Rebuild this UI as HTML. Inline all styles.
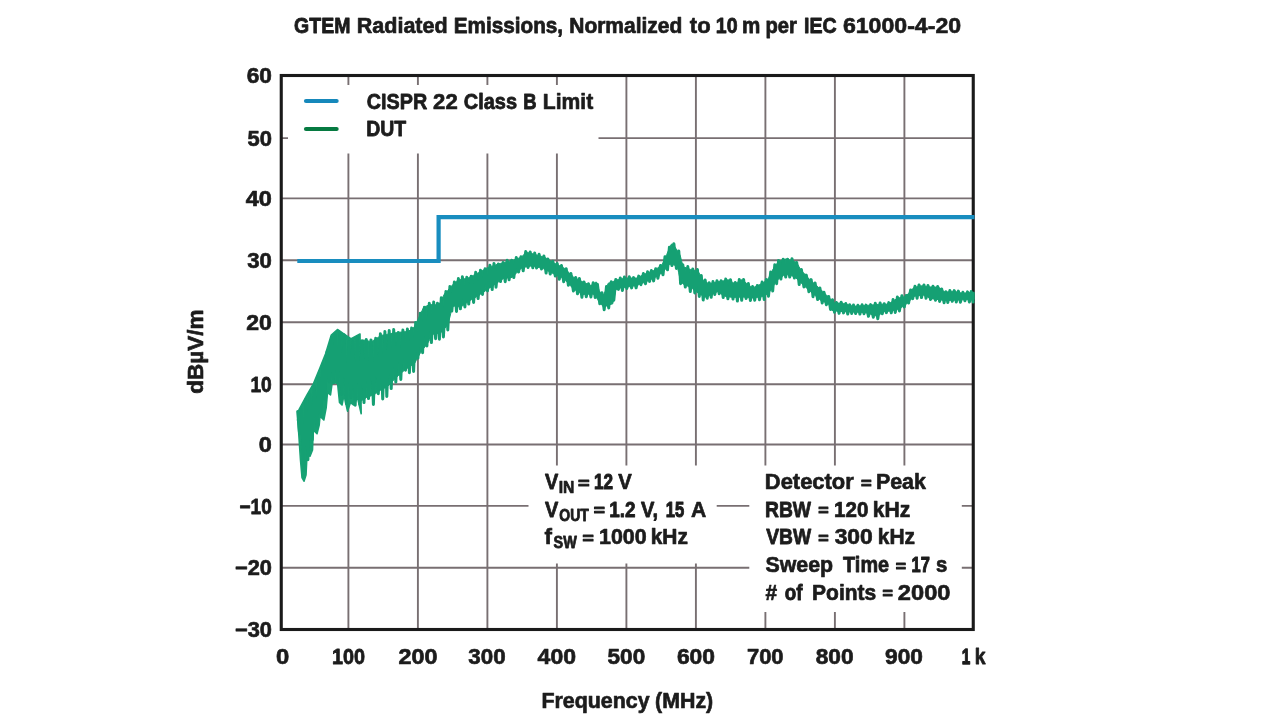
<!DOCTYPE html>
<html lang="en"><head><meta charset="utf-8"><title>GTEM Radiated Emissions</title>
<style>
html,body{margin:0;padding:0;background:#fff;width:1280px;height:720px;overflow:hidden}
svg{display:block;filter:blur(0.45px)}
text{font-family:"Liberation Sans",sans-serif;font-weight:bold;fill:#1c1c1c;stroke:#1c1c1c;stroke-width:0.65px;stroke-linejoin:round}
</style></head><body>
<svg width="1280" height="720" viewBox="0 0 1280 720">
<rect width="1280" height="720" fill="#fff"/>
<g stroke="#786f72" stroke-width="1.9" fill="none" style="filter:blur(0.5px)"><line x1="348.40" y1="75.5" x2="348.40" y2="629.5"/><line x1="417.90" y1="75.5" x2="417.90" y2="629.5"/><line x1="487.40" y1="75.5" x2="487.40" y2="629.5"/><line x1="556.90" y1="75.5" x2="556.90" y2="629.5"/><line x1="626.40" y1="75.5" x2="626.40" y2="629.5"/><line x1="695.90" y1="75.5" x2="695.90" y2="629.5"/><line x1="765.40" y1="75.5" x2="765.40" y2="629.5"/><line x1="834.90" y1="75.5" x2="834.90" y2="629.5"/><line x1="904.40" y1="75.5" x2="904.40" y2="629.5"/><line x1="281.25" y1="138.10" x2="973.25" y2="138.10"/><line x1="281.25" y1="198.40" x2="973.25" y2="198.40"/><line x1="281.25" y1="260.30" x2="973.25" y2="260.30"/><line x1="281.25" y1="322.20" x2="973.25" y2="322.20"/><line x1="281.25" y1="384.20" x2="973.25" y2="384.20"/><line x1="281.25" y1="444.50" x2="973.25" y2="444.50"/><line x1="281.25" y1="505.90" x2="973.25" y2="505.90"/><line x1="281.25" y1="567.70" x2="973.25" y2="567.70"/></g>
<rect x="288" y="85" width="310.5" height="68.5" fill="#fff"/>
<rect x="528.5" y="465.5" width="188.2" height="98" fill="#fff"/>
<rect x="749.3" y="465.5" width="212.5" height="146.5" fill="#fff"/>
<rect x="281.25" y="75.5" width="692.0" height="554.0" fill="none" stroke="#1a1a1a" stroke-width="3.1"/>
<path d="M297.3,261 H438.6 V217.1 H974.5" fill="none" stroke="#188dbf" stroke-width="4.2" stroke-linejoin="miter"/>
<path d="M297.7,412.5 L299.2,412.5 L300.7,411.4 L302.2,409.3 L303.7,407.4 L305.2,404.8 L306.7,401.6 L308.2,398.7 L309.7,396.1 L311.2,393.3 L312.7,390.2 L314.2,387.3 L315.7,384.0 L317.2,380.7 L318.7,377.0 L320.2,373.4 L321.7,369.4 L323.2,365.3 L324.7,361.3 L326.2,357.2 L327.7,352.0 L329.2,346.7 L330.7,341.4 L332.2,337.9 L333.7,336.6 L335.2,335.4 L336.7,334.2 L338.2,333.5 L339.7,334.6 L341.2,335.7 L342.7,336.6 L344.2,337.8 L345.7,339.1 L347.2,340.3 L348.7,341.4 L350.2,342.5 L351.7,343.5 L353.2,343.0 L354.7,342.5 L356.2,342.0 L357.7,341.6 L359.2,341.1 L360.7,340.5 L362.2,339.9 L363.7,340.0 L365.2,340.3 L366.7,340.6 L368.2,340.9 L369.7,341.2 L371.2,341.5 L372.7,340.9 L374.2,339.9 L375.7,338.9 L377.2,337.9 L378.7,336.9 L380.2,335.9 L381.7,335.3 L383.2,335.0 L384.7,334.8 L386.2,334.5 L387.7,334.2 L389.2,333.9 L390.7,333.6 L392.2,333.3 L393.7,333.0 L395.2,332.8 L396.7,332.6 L398.2,332.4 L399.7,332.2 L401.2,332.1 L402.7,331.9 L404.2,331.7 L405.7,331.6 L407.2,331.4 L408.7,331.1 L410.2,330.0 L411.7,328.8 L413.2,327.7 L414.7,326.3 L416.2,323.1 L417.7,319.9 L419.2,316.7 L420.7,313.5 L422.2,310.3 L423.7,307.1 L425.2,306.5 L426.7,305.9 L428.2,305.3 L429.7,304.7 L431.2,304.6 L432.7,304.5 L434.2,304.6 L435.7,304.7 L437.2,304.7 L438.7,304.8 L440.2,302.4 L441.7,299.4 L443.2,296.3 L444.7,293.5 L446.2,292.0 L447.7,290.5 L449.2,288.8 L450.7,287.0 L452.2,285.3 L453.7,283.8 L455.2,282.4 L456.7,281.0 L458.2,280.1 L459.7,279.8 L461.2,279.5 L462.7,279.2 L464.2,278.8 L465.7,278.5 L467.2,278.1 L468.7,277.7 L470.2,276.9 L471.7,276.2 L473.2,275.4 L474.7,274.7 L476.2,273.9 L477.7,273.1 L479.2,272.4 L480.7,271.5 L482.2,270.6 L483.7,269.8 L485.2,268.9 L486.7,268.0 L488.2,267.4 L489.7,266.9 L491.2,266.4 L492.7,265.9 L494.2,265.4 L495.7,264.9 L497.2,264.4 L498.7,263.9 L500.2,263.5 L501.7,263.1 L503.2,262.7 L504.7,262.3 L506.2,261.9 L507.7,261.6 L509.2,261.2 L510.7,260.8 L512.2,260.4 L513.7,259.9 L515.2,259.4 L516.7,258.8 L518.2,258.3 L519.7,257.8 L521.2,257.2 L522.7,255.7 L524.2,254.2 L525.7,252.8 L527.2,252.3 L528.7,252.7 L530.2,253.1 L531.7,253.5 L533.2,253.9 L534.7,254.4 L536.2,254.8 L537.7,255.2 L539.2,255.7 L540.7,256.1 L542.2,256.6 L543.7,257.0 L545.2,257.6 L546.7,258.5 L548.2,259.4 L549.7,260.3 L551.2,261.3 L552.7,262.2 L554.2,263.1 L555.7,263.8 L557.2,264.6 L558.7,265.3 L560.2,266.1 L561.7,266.9 L563.2,267.6 L564.7,268.4 L566.2,269.9 L567.7,271.4 L569.2,272.8 L570.7,274.3 L572.2,275.8 L573.7,277.2 L575.2,278.0 L576.7,278.8 L578.2,279.5 L579.7,280.3 L581.2,281.1 L582.7,281.8 L584.2,282.5 L585.7,283.2 L587.2,283.9 L588.7,284.6 L590.2,285.3 L591.7,285.1 L593.2,284.0 L594.7,282.9 L596.2,281.9 L597.7,285.9 L599.2,290.7 L600.7,292.9 L602.2,293.7 L603.7,294.5 L605.2,291.5 L606.7,287.1 L608.2,283.2 L609.7,282.7 L611.2,282.2 L612.7,281.8 L614.2,281.0 L615.7,280.2 L617.2,279.8 L618.7,279.5 L620.2,279.2 L621.7,278.9 L623.2,278.6 L624.7,278.3 L626.2,278.1 L627.7,278.0 L629.2,278.0 L630.7,278.0 L632.2,278.0 L633.7,278.0 L635.2,278.0 L636.7,278.0 L638.2,277.3 L639.7,276.6 L641.2,275.8 L642.7,275.1 L644.2,274.3 L645.7,273.6 L647.2,273.0 L648.7,272.4 L650.2,271.9 L651.7,271.3 L653.2,270.7 L654.7,270.0 L656.2,269.0 L657.7,267.9 L659.2,266.9 L660.7,265.8 L662.2,264.5 L663.7,261.2 L665.2,257.9 L666.7,254.6 L668.2,251.1 L669.7,247.7 L671.2,244.3 L672.7,243.9 L674.2,246.0 L675.7,248.2 L677.2,250.3 L678.7,252.8 L680.2,255.4 L681.7,261.3 L683.2,266.7 L684.7,267.3 L686.2,267.8 L687.7,268.4 L689.2,268.9 L690.7,269.5 L692.2,269.9 L693.7,270.2 L695.2,270.5 L696.7,270.9 L698.2,271.3 L699.7,274.2 L701.2,277.1 L702.7,279.7 L704.2,280.7 L705.7,281.8 L707.2,282.7 L708.7,283.7 L710.2,283.4 L711.7,283.1 L713.2,282.8 L714.7,282.5 L716.2,282.1 L717.7,281.8 L719.2,281.6 L720.7,281.3 L722.2,281.0 L723.7,280.7 L725.2,280.4 L726.7,280.1 L728.2,279.7 L729.7,280.5 L731.2,281.4 L732.7,282.4 L734.2,283.3 L735.7,283.4 L737.2,282.4 L738.7,281.5 L740.2,280.5 L741.7,279.7 L743.2,280.9 L744.7,282.0 L746.2,283.1 L747.7,284.3 L749.2,285.4 L750.7,286.6 L752.2,287.7 L753.7,287.4 L755.2,286.7 L756.7,285.9 L758.2,285.2 L759.7,284.5 L761.2,283.8 L762.7,282.9 L764.2,281.9 L765.7,280.9 L767.2,279.9 L768.7,277.7 L770.2,274.8 L771.7,271.8 L773.2,268.9 L774.7,266.7 L776.2,264.6 L777.7,262.6 L779.2,261.0 L780.7,260.5 L782.2,260.0 L783.7,259.6 L785.2,259.1 L786.7,258.9 L788.2,259.4 L789.7,259.9 L791.2,260.3 L792.7,260.8 L794.2,261.3 L795.7,261.9 L797.2,263.6 L798.7,266.2 L800.2,268.8 L801.7,270.7 L803.2,272.4 L804.7,274.1 L806.2,275.7 L807.7,277.4 L809.2,279.1 L810.7,280.4 L812.2,281.7 L813.7,283.0 L815.2,284.4 L816.7,285.7 L818.2,287.0 L819.7,288.5 L821.2,289.9 L822.7,291.4 L824.2,292.9 L825.7,294.3 L827.2,295.8 L828.7,297.2 L830.2,298.8 L831.7,300.4 L833.2,301.8 L834.7,303.1 L836.2,303.1 L837.7,303.1 L839.2,303.1 L840.7,303.1 L842.2,303.1 L843.7,303.5 L845.2,304.0 L846.7,304.4 L848.2,304.8 L849.7,305.3 L851.2,305.7 L852.7,306.1 L854.2,306.2 L855.7,306.1 L857.2,306.0 L858.7,305.9 L860.2,305.8 L861.7,305.7 L863.2,305.6 L864.7,305.5 L866.2,305.4 L867.7,305.3 L869.2,305.2 L870.7,305.1 L872.2,304.9 L873.7,304.8 L875.2,304.6 L876.7,304.5 L878.2,304.4 L879.7,304.3 L881.2,304.3 L882.7,304.2 L884.2,304.2 L885.7,304.2 L887.2,304.1 L888.7,303.8 L890.2,302.8 L891.7,301.9 L893.2,300.9 L894.7,300.0 L896.2,299.1 L897.7,298.1 L899.2,297.7 L900.7,297.4 L902.2,297.2 L903.7,296.9 L905.2,296.7 L906.7,295.4 L908.2,293.7 L909.7,292.0 L911.2,290.3 L912.7,288.6 L914.2,287.6 L915.7,287.2 L917.2,286.7 L918.7,286.3 L920.2,285.9 L921.7,285.8 L923.2,285.9 L924.7,286.2 L926.2,286.4 L927.7,286.6 L929.2,286.8 L930.7,286.9 L932.2,286.9 L933.7,286.9 L935.2,287.0 L936.7,287.0 L938.2,287.0 L939.7,287.9 L941.2,289.2 L942.7,290.4 L944.2,291.6 L945.7,292.1 L947.2,291.9 L948.7,291.8 L950.2,291.6 L951.7,291.4 L953.2,291.2 L954.7,291.4 L956.2,291.7 L957.7,292.1 L959.2,292.4 L960.7,292.8 L962.2,293.1 L963.7,293.1 L965.2,293.0 L966.7,292.8 L968.2,292.7 L969.7,292.5 L971.2,292.4 L972.7,292.3 L974.2,292.2 L974.2,299.6 L972.7,299.6 L971.2,299.6 L969.7,299.7 L968.2,299.7 L966.7,299.7 L965.2,299.7 L963.7,299.7 L962.2,299.8 L960.7,299.9 L959.2,300.0 L957.7,300.1 L956.2,300.2 L954.7,300.3 L953.2,300.4 L951.7,300.4 L950.2,300.5 L948.7,300.5 L947.2,300.5 L945.7,300.5 L944.2,300.5 L942.7,300.3 L941.2,300.1 L939.7,299.9 L938.2,299.6 L936.7,299.4 L935.2,299.2 L933.7,299.1 L932.2,298.9 L930.7,298.4 L929.2,297.7 L927.7,297.1 L926.2,296.4 L924.7,295.7 L923.2,295.1 L921.7,295.2 L920.2,295.3 L918.7,295.6 L917.2,295.8 L915.7,296.0 L914.2,296.4 L912.7,297.8 L911.2,299.3 L909.7,300.8 L908.2,302.3 L906.7,303.8 L905.2,305.2 L903.7,306.0 L902.2,306.9 L900.7,307.7 L899.2,308.6 L897.7,309.5 L896.2,310.1 L894.7,310.3 L893.2,310.6 L891.7,310.8 L890.2,311.0 L888.7,311.3 L887.2,311.4 L885.7,311.5 L884.2,311.7 L882.7,312.5 L881.2,313.5 L879.7,314.6 L878.2,315.7 L876.7,316.2 L875.2,315.7 L873.7,315.2 L872.2,314.7 L870.7,314.3 L869.2,313.8 L867.7,313.3 L866.2,312.8 L864.7,312.7 L863.2,312.6 L861.7,312.5 L860.2,312.4 L858.7,312.3 L857.2,312.2 L855.7,312.1 L854.2,312.0 L852.7,312.0 L851.2,311.9 L849.7,311.8 L848.2,311.8 L846.7,311.7 L845.2,311.7 L843.7,311.6 L842.2,311.5 L840.7,311.5 L839.2,311.5 L837.7,311.3 L836.2,311.1 L834.7,311.0 L833.2,310.6 L831.7,310.3 L830.2,307.2 L828.7,304.0 L827.2,303.3 L825.7,302.6 L824.2,301.9 L822.7,301.2 L821.2,300.5 L819.7,299.6 L818.2,298.3 L816.7,296.9 L815.2,295.6 L813.7,294.3 L812.2,293.0 L810.7,291.7 L809.2,290.4 L807.7,289.0 L806.2,287.7 L804.7,286.3 L803.2,284.9 L801.7,283.6 L800.2,282.2 L798.7,280.7 L797.2,279.2 L795.7,277.8 L794.2,276.6 L792.7,276.2 L791.2,275.8 L789.7,275.4 L788.2,275.0 L786.7,274.6 L785.2,274.4 L783.7,275.5 L782.2,276.5 L780.7,277.5 L779.2,278.5 L777.7,279.7 L776.2,281.3 L774.7,283.7 L773.2,286.2 L771.7,288.8 L770.2,291.3 L768.7,292.7 L767.2,293.9 L765.7,294.9 L764.2,295.8 L762.7,296.5 L761.2,296.8 L759.7,297.0 L758.2,297.2 L756.7,297.4 L755.2,297.7 L753.7,297.9 L752.2,298.0 L750.7,297.9 L749.2,297.7 L747.7,297.6 L746.2,297.4 L744.7,297.3 L743.2,297.1 L741.7,296.9 L740.2,297.1 L738.7,297.2 L737.2,297.3 L735.7,297.4 L734.2,297.4 L732.7,297.3 L731.2,297.2 L729.7,297.0 L728.2,296.9 L726.7,297.0 L725.2,296.3 L723.7,295.4 L722.2,294.5 L720.7,293.6 L719.2,292.7 L717.7,291.7 L716.2,292.3 L714.7,293.1 L713.2,293.8 L711.7,294.6 L710.2,295.3 L708.7,296.1 L707.2,296.7 L705.7,297.2 L704.2,296.5 L702.7,295.8 L701.2,294.9 L699.7,294.0 L698.2,293.1 L696.7,291.9 L695.2,290.8 L693.7,289.7 L692.2,288.5 L690.7,287.6 L689.2,286.9 L687.7,286.2 L686.2,285.5 L684.7,284.8 L683.2,284.0 L681.7,282.6 L680.2,279.6 L678.7,272.6 L677.2,266.5 L675.7,265.8 L674.2,265.1 L672.7,264.5 L671.2,264.2 L669.7,264.2 L668.2,266.0 L666.7,267.8 L665.2,269.5 L663.7,271.3 L662.2,272.7 L660.7,273.7 L659.2,274.7 L657.7,275.7 L656.2,276.6 L654.7,277.6 L653.2,278.4 L651.7,279.1 L650.2,279.8 L648.7,280.5 L647.2,281.2 L645.7,281.9 L644.2,282.5 L642.7,283.1 L641.2,283.7 L639.7,284.3 L638.2,284.9 L636.7,285.4 L635.2,285.7 L633.7,286.0 L632.2,286.2 L630.7,286.5 L629.2,286.7 L627.7,287.0 L626.2,287.3 L624.7,287.5 L623.2,287.7 L621.7,287.8 L620.2,288.0 L618.7,288.2 L617.2,288.4 L615.7,290.4 L614.2,297.4 L612.7,303.9 L611.2,304.3 L609.7,304.7 L608.2,305.1 L606.7,305.9 L605.2,306.9 L603.7,307.1 L602.2,305.4 L600.7,303.8 L599.2,301.9 L597.7,299.6 L596.2,297.2 L594.7,295.6 L593.2,293.9 L591.7,294.1 L590.2,294.2 L588.7,294.3 L587.2,294.3 L585.7,294.4 L584.2,294.4 L582.7,294.4 L581.2,293.8 L579.7,292.9 L578.2,292.0 L576.7,291.1 L575.2,290.1 L573.7,289.2 L572.2,287.6 L570.7,286.0 L569.2,284.3 L567.7,282.7 L566.2,281.0 L564.7,279.3 L563.2,278.6 L561.7,277.8 L560.2,277.1 L558.7,276.4 L557.2,275.6 L555.7,274.9 L554.2,274.1 L552.7,273.4 L551.2,272.6 L549.7,271.8 L548.2,271.0 L546.7,270.3 L545.2,269.5 L543.7,268.8 L542.2,268.2 L540.7,267.9 L539.2,267.6 L537.7,267.2 L536.2,266.9 L534.7,266.6 L533.2,266.3 L531.7,266.0 L530.2,266.2 L528.7,266.4 L527.2,266.7 L525.7,267.0 L524.2,267.4 L522.7,267.9 L521.2,268.4 L519.7,269.7 L518.2,271.3 L516.7,272.8 L515.2,274.3 L513.7,275.9 L512.2,277.4 L510.7,277.6 L509.2,277.8 L507.7,278.0 L506.2,278.2 L504.7,278.4 L503.2,278.7 L501.7,279.7 L500.2,280.8 L498.7,281.8 L497.2,282.8 L495.7,283.9 L494.2,284.9 L492.7,285.9 L491.2,286.9 L489.7,287.9 L488.2,288.9 L486.7,289.9 L485.2,291.0 L483.7,292.0 L482.2,293.1 L480.7,294.1 L479.2,295.2 L477.7,296.1 L476.2,296.9 L474.7,297.8 L473.2,298.7 L471.7,299.5 L470.2,300.4 L468.7,301.3 L467.2,302.3 L465.7,303.5 L464.2,304.6 L462.7,305.7 L461.2,306.8 L459.7,307.1 L458.2,306.7 L456.7,306.4 L455.2,306.2 L453.7,306.0 L452.2,307.8 L450.7,313.8 L449.2,319.9 L447.7,324.7 L446.2,326.6 L444.7,328.4 L443.2,330.4 L441.7,332.1 L440.2,332.8 L438.7,333.3 L437.2,333.5 L435.7,333.7 L434.2,333.9 L432.7,334.4 L431.2,337.0 L429.7,339.6 L428.2,342.2 L426.7,344.9 L425.2,346.6 L423.7,348.3 L422.2,350.3 L420.7,352.4 L419.2,355.0 L417.7,357.8 L416.2,360.5 L414.7,363.2 L413.2,364.4 L411.7,365.4 L410.2,366.4 L408.7,367.5 L407.2,368.4 L405.7,369.2 L404.2,370.5 L402.7,371.8 L401.2,373.1 L399.7,374.4 L398.2,375.8 L396.7,377.1 L395.2,378.6 L393.7,380.1 L392.2,381.7 L390.7,383.2 L389.2,384.8 L387.7,386.3 L386.2,387.4 L384.7,388.1 L383.2,388.8 L381.7,389.5 L380.2,390.4 L378.7,391.5 L377.2,392.5 L375.7,393.6 L374.2,394.6 L372.7,395.2 L371.2,395.8 L369.7,396.3 L368.2,396.8 L366.7,397.4 L365.2,398.4 L363.7,399.3 L362.2,400.3 L360.7,401.4 L359.2,400.9 L357.7,399.3 L356.2,397.7 L354.7,396.1 L353.2,394.9 L351.7,396.3 L350.2,397.5 L348.7,398.7 L347.2,399.6 L345.7,397.5 L344.2,395.4 L342.7,393.3 L341.2,391.3 L339.7,385.7 L338.2,379.8 L336.7,374.2 L335.2,374.3 L333.7,374.8 L332.2,375.3 L330.7,376.1 L329.2,379.7 L327.7,383.9 L326.2,388.2 L324.7,394.5 L323.2,401.5 L321.7,408.5 L320.2,414.0 L318.7,419.1 L317.2,423.7 L315.7,423.1 L314.2,422.4 L312.7,429.1 L311.2,440.8 L309.7,447.2 L308.2,450.2 L306.7,454.1 L305.2,463.6 L303.7,461.8 L302.2,449.9 L300.7,439.0 L299.2,428.9 L297.7,418.7Z" fill="#17a274" stroke="#17a274" stroke-width="1" stroke-linejoin="round"/>
<path d="M297.6,420.0 L298.9,410.0 L307.0,395.0 L313.4,383.8 L319.6,368.8 L325.6,353.8 L331.3,335.0 L337.5,329.5 L343.8,333.8 L351.2,338.8 L360.0,334.0 L361.2,413.8 L357.5,397.5 L353.8,405.0 L350.5,402.5 L347.5,411.2 L344.0,395.0 L342.0,405.0 L339.5,402.5 L337.5,382.5 L332.0,383.8 L330.5,395.0 L327.5,392.5 L326.2,407.5 L323.8,420.0 L320.0,416.2 L319.2,425.0 L317.0,433.8 L313.2,430.0 L312.5,450.0 L310.0,456.2 L307.0,455.0 L306.0,475.0 L304.0,481.2 L302.0,477.5 L300.5,460.0 L298.0,422.5Z" fill="#17a274" stroke="#17a274" stroke-width="1.6" stroke-linejoin="round"/>
<path d="M297.7,411.5 L299.6,433.8 L301.5,409.3 L303.6,470.2 L305.8,399.4 L307.9,459.8 L309.8,394.2 L312.3,439.7 L314.2,386.6 L316.8,427.2 L318.9,377.4 L320.7,413.7 L322.8,363.9 L324.7,399.5 L327.1,351.8 L329.4,382.0 L331.5,337.7 L333.3,382.0 L335.3,334.9 L337.4,382.9 L339.7,333.0 L341.8,394.4 L344.1,334.8 L346.4,403.8 L348.9,341.4 L350.9,397.4 L352.8,341.4 L355.2,405.3 L357.4,337.5 L359.7,404.3 L362.0,340.9 L364.0,402.6 L366.3,339.5 L368.5,398.6 L371.0,339.9 L373.4,404.5 L375.7,338.3 L378.3,393.8 L380.4,333.7 L382.7,398.9 L384.9,331.5 L386.8,396.5 L389.2,330.6 L391.2,388.6 L393.7,329.6 L395.8,382.1 L398.3,332.6 L400.8,379.4 L402.9,330.1 L405.5,370.2 L407.4,329.0 L409.4,372.7 L411.6,328.1 L413.6,371.5 L415.7,322.5 L417.9,358.1 L420.3,313.2 L422.6,352.7 L424.4,307.3 L426.9,346.0 L429.3,303.3 L431.4,342.6 L433.7,302.1 L435.6,338.7 L437.5,303.2 L439.4,339.2 L441.3,297.7 L443.4,336.9 L445.9,291.6 L447.8,330.0 L449.9,286.5 L451.8,311.0 L454.4,282.0 L456.5,311.5 L458.4,278.5 L460.4,308.8 L462.4,276.8 L464.9,307.0 L466.8,277.3 L468.7,304.1 L471.2,276.3 L473.6,302.4 L475.7,272.3 L478.1,298.6 L480.5,270.2 L482.5,294.4 L485.1,268.8 L487.5,290.8 L489.9,265.2 L492.2,289.6 L494.0,263.4 L496.0,287.2 L498.4,264.0 L500.5,281.5 L503.1,262.6 L505.2,281.7 L507.2,260.2 L509.1,279.8 L511.7,260.3 L513.8,277.6 L516.3,257.4 L518.6,271.9 L521.0,256.8 L523.2,270.8 L525.7,251.6 L528.1,267.4 L530.2,252.0 L532.8,267.7 L534.7,252.9 L536.6,268.1 L539.1,254.2 L541.5,268.9 L543.9,256.0 L546.1,273.0 L547.9,259.0 L550.2,274.1 L552.8,261.3 L555.3,275.9 L557.2,263.4 L559.3,279.3 L561.5,265.6 L563.7,281.8 L566.2,268.8 L568.4,285.3 L570.9,273.5 L573.4,291.1 L575.7,277.4 L577.5,293.8 L579.4,278.5 L581.9,297.3 L584.0,281.9 L586.3,296.8 L588.5,283.7 L590.9,296.9 L593.2,282.8 L595.2,297.6 L597.4,284.2 L599.8,303.8 L602.0,292.8 L604.2,309.7 L606.5,286.5 L608.7,307.9 L611.3,281.7 L613.8,300.2 L615.8,279.4 L618.4,289.4 L620.3,277.9 L622.4,290.5 L624.4,277.0 L626.8,288.5 L629.3,276.8 L631.6,287.9 L633.6,277.6 L636.1,287.8 L638.7,276.1 L640.9,284.7 L643.4,273.5 L645.5,283.8 L647.6,271.7 L649.6,281.4 L651.4,270.6 L653.6,280.9 L655.7,268.7 L657.9,278.2 L660.5,265.5 L663.0,274.8 L665.0,256.7 L667.5,269.8 L669.4,247.3 L671.9,265.6 L673.9,243.8 L676.4,268.4 L678.8,251.1 L680.6,283.7 L682.8,264.7 L685.3,287.1 L687.8,266.6 L690.3,291.6 L692.8,269.0 L694.8,293.0 L697.4,269.4 L699.3,296.4 L701.3,275.5 L703.2,300.0 L705.2,280.1 L707.2,298.2 L709.2,282.8 L711.2,297.3 L713.0,281.6 L714.8,294.5 L717.0,280.7 L719.2,293.7 L721.1,280.8 L723.2,297.5 L725.7,279.1 L727.9,298.8 L730.5,279.8 L733.0,299.0 L735.3,282.6 L737.4,301.0 L739.3,279.4 L741.7,300.3 L743.6,279.4 L746.1,298.6 L748.4,283.6 L750.4,300.5 L752.6,286.6 L754.7,300.3 L757.3,285.5 L759.5,299.8 L762.1,282.1 L764.2,299.6 L766.3,279.5 L768.5,296.2 L770.7,271.9 L772.7,291.0 L774.8,264.7 L776.6,283.7 L778.6,260.5 L780.9,279.0 L783.2,259.2 L785.7,277.1 L787.7,259.2 L789.7,277.1 L792.0,258.8 L794.4,278.0 L796.7,262.4 L799.2,284.5 L801.4,269.5 L803.9,286.9 L806.3,275.1 L808.9,291.7 L811.2,279.6 L813.0,296.7 L815.1,282.9 L817.6,299.6 L819.9,288.0 L822.2,303.0 L824.0,292.2 L826.4,304.7 L828.7,296.5 L830.5,309.4 L832.5,299.8 L834.5,312.3 L836.5,302.5 L839.1,313.3 L841.2,302.2 L843.5,312.9 L845.8,303.5 L847.7,314.1 L849.7,304.7 L851.7,313.5 L853.5,305.0 L855.6,313.5 L857.9,305.3 L859.9,314.1 L862.1,304.8 L864.0,313.7 L866.0,305.1 L868.5,316.3 L870.7,304.6 L873.3,317.2 L875.3,303.3 L877.8,318.7 L880.1,303.0 L882.3,313.7 L884.2,303.7 L886.4,312.6 L888.8,302.6 L891.3,312.8 L893.1,299.5 L895.3,312.4 L897.4,296.9 L899.4,310.9 L901.9,295.7 L904.3,306.9 L906.2,295.6 L908.6,303.0 L910.6,289.9 L912.7,298.6 L915.0,286.3 L917.1,298.2 L919.0,284.9 L921.5,297.6 L924.0,284.9 L926.0,298.3 L928.0,285.6 L930.5,299.4 L933.0,286.2 L935.5,300.2 L937.7,286.4 L939.6,301.4 L941.7,289.1 L944.1,302.8 L945.9,291.7 L947.8,302.4 L949.9,290.5 L952.3,301.3 L954.3,290.6 L956.3,302.0 L958.4,291.1 L960.4,302.2 L962.9,292.3 L964.9,300.7 L967.5,291.9 L969.4,302.0 L971.2,291.4 L973.1,301.9" fill="none" stroke="#15a073" stroke-width="3.0" stroke-linejoin="round" stroke-linecap="round"/>
<line x1="306" y1="101.0" x2="336.6" y2="101.0" stroke="#1688bb" stroke-width="4.2" stroke-linecap="round"/>
<line x1="306" y1="129.0" x2="336.6" y2="129.0" stroke="#067a41" stroke-width="4.2" stroke-linecap="round"/>
<text x="294.11" y="32.9" font-size="22.4" textLength="56.28" lengthAdjust="spacingAndGlyphs" style="stroke-width:0.86px">GTEM</text>
<text x="356.72" y="32.9" font-size="22.4" textLength="90.93" lengthAdjust="spacingAndGlyphs" style="stroke-width:0.70px">Radiated</text>
<text x="453.78" y="32.9" font-size="22.4" textLength="109.33" lengthAdjust="spacingAndGlyphs" style="stroke-width:0.76px">Emissions,</text>
<text x="569.26" y="32.9" font-size="22.4" textLength="113.06" lengthAdjust="spacingAndGlyphs" style="stroke-width:0.74px">Normalized</text>
<text x="689.82" y="32.9" font-size="22.4" textLength="20.78" lengthAdjust="spacingAndGlyphs">to</text>
<text x="715.80" y="32.9" font-size="22.4" textLength="21.78" lengthAdjust="spacingAndGlyphs" style="stroke-width:0.85px">10</text>
<text x="742.03" y="32.9" font-size="22.4" textLength="18.30" lengthAdjust="spacingAndGlyphs" style="stroke-width:0.77px">m</text>
<text x="765.46" y="32.9" font-size="22.4" textLength="31.41" lengthAdjust="spacingAndGlyphs" style="stroke-width:0.80px">per</text>
<text x="804.10" y="32.9" font-size="22.4" textLength="32.66" lengthAdjust="spacingAndGlyphs" style="stroke-width:0.85px">IEC</text>
<text x="842.90" y="32.9" font-size="22.4" textLength="118.22" lengthAdjust="spacingAndGlyphs">61000-4-20</text>
<text x="246.71" y="83.3" font-size="21.4" textLength="25.19" lengthAdjust="spacingAndGlyphs">60</text>
<text x="247.48" y="145.7" font-size="21.4" textLength="24.39" lengthAdjust="spacingAndGlyphs">50</text>
<text x="245.82" y="206.0" font-size="21.4" textLength="26.11" lengthAdjust="spacingAndGlyphs">40</text>
<text x="247.27" y="267.9" font-size="21.4" textLength="24.60" lengthAdjust="spacingAndGlyphs">30</text>
<text x="246.30" y="329.8" font-size="21.4" textLength="25.61" lengthAdjust="spacingAndGlyphs">20</text>
<text x="250.42" y="391.8" font-size="21.4" textLength="21.34" lengthAdjust="spacingAndGlyphs" style="stroke-width:0.81px">10</text>
<text x="258.89" y="452.1" font-size="21.4" textLength="13.04" lengthAdjust="spacingAndGlyphs">0</text>
<text x="239.42" y="513.5" font-size="21.4" textLength="32.33" lengthAdjust="spacingAndGlyphs" style="stroke-width:0.82px">−10</text>
<text x="234.94" y="575.3" font-size="21.4" textLength="36.92" lengthAdjust="spacingAndGlyphs">−20</text>
<text x="234.94" y="637.1" font-size="21.4" textLength="36.92" lengthAdjust="spacingAndGlyphs">−30</text>
<text x="275.97" y="664.0" font-size="21.4" textLength="13.27" lengthAdjust="spacingAndGlyphs">0</text>
<text x="331.88" y="664.0" font-size="21.4" textLength="33.10" lengthAdjust="spacingAndGlyphs" style="stroke-width:0.76px">100</text>
<text x="398.49" y="664.0" font-size="21.4" textLength="38.93" lengthAdjust="spacingAndGlyphs">200</text>
<text x="468.37" y="664.0" font-size="21.4" textLength="37.32" lengthAdjust="spacingAndGlyphs">300</text>
<text x="537.62" y="664.0" font-size="21.4" textLength="38.39" lengthAdjust="spacingAndGlyphs">400</text>
<text x="607.57" y="664.0" font-size="21.4" textLength="37.63" lengthAdjust="spacingAndGlyphs">500</text>
<text x="676.91" y="664.0" font-size="21.4" textLength="38.10" lengthAdjust="spacingAndGlyphs">600</text>
<text x="746.93" y="664.0" font-size="21.4" textLength="36.64" lengthAdjust="spacingAndGlyphs">700</text>
<text x="815.71" y="664.0" font-size="21.4" textLength="37.89" lengthAdjust="spacingAndGlyphs">800</text>
<text x="885.11" y="664.0" font-size="21.4" textLength="37.89" lengthAdjust="spacingAndGlyphs">900</text>
<text x="961.77" y="664.0" font-size="21.4" textLength="8.50" lengthAdjust="spacingAndGlyphs" style="stroke-width:1.28px">1</text>
<text x="974.71" y="664.0" font-size="21.4" textLength="10.74" lengthAdjust="spacingAndGlyphs" style="stroke-width:0.80px">k</text>
<text x="541.48" y="707.8" font-size="21.4" textLength="108.06" lengthAdjust="spacingAndGlyphs">Frequency</text>
<text x="655.12" y="707.8" font-size="21.4" textLength="58.13" lengthAdjust="spacingAndGlyphs">(MHz)</text>
<text x="366.80" y="109.3" font-size="21.6" textLength="60.35" lengthAdjust="spacingAndGlyphs" style="stroke-width:0.78px">CISPR</text>
<text x="433.13" y="109.3" font-size="21.6" textLength="24.60" lengthAdjust="spacingAndGlyphs">22</text>
<text x="463.80" y="109.3" font-size="21.6" textLength="53.29" lengthAdjust="spacingAndGlyphs" style="stroke-width:0.76px">Class</text>
<text x="523.27" y="109.3" font-size="21.6" textLength="13.30" lengthAdjust="spacingAndGlyphs" style="stroke-width:0.89px">B</text>
<text x="542.75" y="109.3" font-size="21.6" textLength="50.43" lengthAdjust="spacingAndGlyphs">Limit</text>
<text x="366.20" y="136.3" font-size="21.6" textLength="40.01" lengthAdjust="spacingAndGlyphs" style="stroke-width:0.80px">DUT</text>
<text x="544.92" y="489.3" font-size="21.6" textLength="13.26" lengthAdjust="spacingAndGlyphs" style="stroke-width:0.77px">V</text>
<text x="558.74" y="492.9" font-size="15.6" textLength="15.67" lengthAdjust="spacingAndGlyphs">IN</text>
<text x="578.00" y="488.7" font-size="16" textLength="11.51" lengthAdjust="spacingAndGlyphs" style="stroke-width:1.00px">=</text>
<text x="594.05" y="489.3" font-size="21.6" textLength="19.06" lengthAdjust="spacingAndGlyphs" style="stroke-width:1.03px">12</text>
<text x="618.32" y="489.3" font-size="21.6" textLength="13.56" lengthAdjust="spacingAndGlyphs" style="stroke-width:0.73px">V</text>
<text x="544.92" y="516.9" font-size="21.6" textLength="13.26" lengthAdjust="spacingAndGlyphs" style="stroke-width:0.77px">V</text>
<text x="559.28" y="520.5" font-size="15.6" textLength="29.52" lengthAdjust="spacingAndGlyphs" style="stroke-width:0.81px">OUT</text>
<text x="593.82" y="516.3" font-size="16" textLength="11.17" lengthAdjust="spacingAndGlyphs" style="stroke-width:1.00px">=</text>
<text x="609.34" y="516.9" font-size="21.6" textLength="26.31" lengthAdjust="spacingAndGlyphs" style="stroke-width:0.85px">1.2</text>
<text x="641.07" y="516.9" font-size="21.6" textLength="17.09" lengthAdjust="spacingAndGlyphs" style="stroke-width:0.76px">V,</text>
<text x="665.79" y="516.9" font-size="21.6" textLength="18.41" lengthAdjust="spacingAndGlyphs" style="stroke-width:1.11px">15</text>
<text x="691.09" y="516.9" font-size="21.6" textLength="15.29" lengthAdjust="spacingAndGlyphs">A</text>
<text x="544.57" y="544.4" font-size="21.6" textLength="7.47" lengthAdjust="spacingAndGlyphs">f</text>
<text x="553.60" y="548.0" font-size="15.6" textLength="23.15" lengthAdjust="spacingAndGlyphs" style="stroke-width:0.77px">SW</text>
<text x="582.52" y="543.8" font-size="16" textLength="11.28" lengthAdjust="spacingAndGlyphs" style="stroke-width:1.00px">=</text>
<text x="598.98" y="544.4" font-size="21.6" textLength="47.67" lengthAdjust="spacingAndGlyphs">1000</text>
<text x="650.71" y="544.4" font-size="21.6" textLength="37.22" lengthAdjust="spacingAndGlyphs" style="stroke-width:0.69px">kHz</text>
<text x="764.85" y="489.3" font-size="21.6" textLength="88.89" lengthAdjust="spacingAndGlyphs">Detector</text>
<text x="861.00" y="488.7" font-size="16" textLength="10.60" lengthAdjust="spacingAndGlyphs" style="stroke-width:1.00px">=</text>
<text x="875.88" y="489.3" font-size="21.6" textLength="50.06" lengthAdjust="spacingAndGlyphs">Peak</text>
<text x="765.01" y="516.9" font-size="21.6" textLength="46.09" lengthAdjust="spacingAndGlyphs" style="stroke-width:0.81px">RBW</text>
<text x="818.36" y="516.3" font-size="16" textLength="10.37" lengthAdjust="spacingAndGlyphs" style="stroke-width:1.00px">=</text>
<text x="834.04" y="516.9" font-size="21.6" textLength="34.28" lengthAdjust="spacingAndGlyphs" style="stroke-width:0.72px">120</text>
<text x="872.75" y="516.9" font-size="21.6" textLength="37.59" lengthAdjust="spacingAndGlyphs">kHz</text>
<text x="766.22" y="544.4" font-size="21.6" textLength="44.88" lengthAdjust="spacingAndGlyphs" style="stroke-width:0.82px">VBW</text>
<text x="818.36" y="543.8" font-size="16" textLength="10.37" lengthAdjust="spacingAndGlyphs" style="stroke-width:1.00px">=</text>
<text x="834.66" y="544.4" font-size="21.6" textLength="38.14" lengthAdjust="spacingAndGlyphs">300</text>
<text x="877.76" y="544.4" font-size="21.6" textLength="37.28" lengthAdjust="spacingAndGlyphs">kHz</text>
<text x="765.49" y="572.1" font-size="21.6" textLength="67.59" lengthAdjust="spacingAndGlyphs">Sweep</text>
<text x="843.12" y="572.1" font-size="21.6" textLength="45.95" lengthAdjust="spacingAndGlyphs" style="stroke-width:0.77px">Time</text>
<text x="895.67" y="571.5" font-size="16" textLength="10.26" lengthAdjust="spacingAndGlyphs" style="stroke-width:1.00px">=</text>
<text x="911.59" y="572.1" font-size="21.6" textLength="18.25" lengthAdjust="spacingAndGlyphs" style="stroke-width:1.13px">17</text>
<text x="935.94" y="572.1" font-size="21.6" textLength="11.26" lengthAdjust="spacingAndGlyphs" style="stroke-width:0.74px">s</text>
<text x="765.49" y="599.7" font-size="21.6" textLength="11.58" lengthAdjust="spacingAndGlyphs" style="stroke-width:0.70px">#</text>
<text x="784.73" y="599.7" font-size="21.6" textLength="17.75" lengthAdjust="spacingAndGlyphs" style="stroke-width:0.86px">of</text>
<text x="812.11" y="599.7" font-size="21.6" textLength="64.02" lengthAdjust="spacingAndGlyphs" style="stroke-width:0.69px">Points</text>
<text x="882.46" y="599.1" font-size="16" textLength="10.37" lengthAdjust="spacingAndGlyphs" style="stroke-width:1.00px">=</text>
<text x="897.88" y="599.7" font-size="21.6" textLength="52.56" lengthAdjust="spacingAndGlyphs">2000</text>
<text transform="translate(202.8,393.3) rotate(-90)" x="-0.38" y="0" font-size="22" textLength="84.24" lengthAdjust="spacingAndGlyphs">dBµV/m</text>
</svg>
</body></html>
